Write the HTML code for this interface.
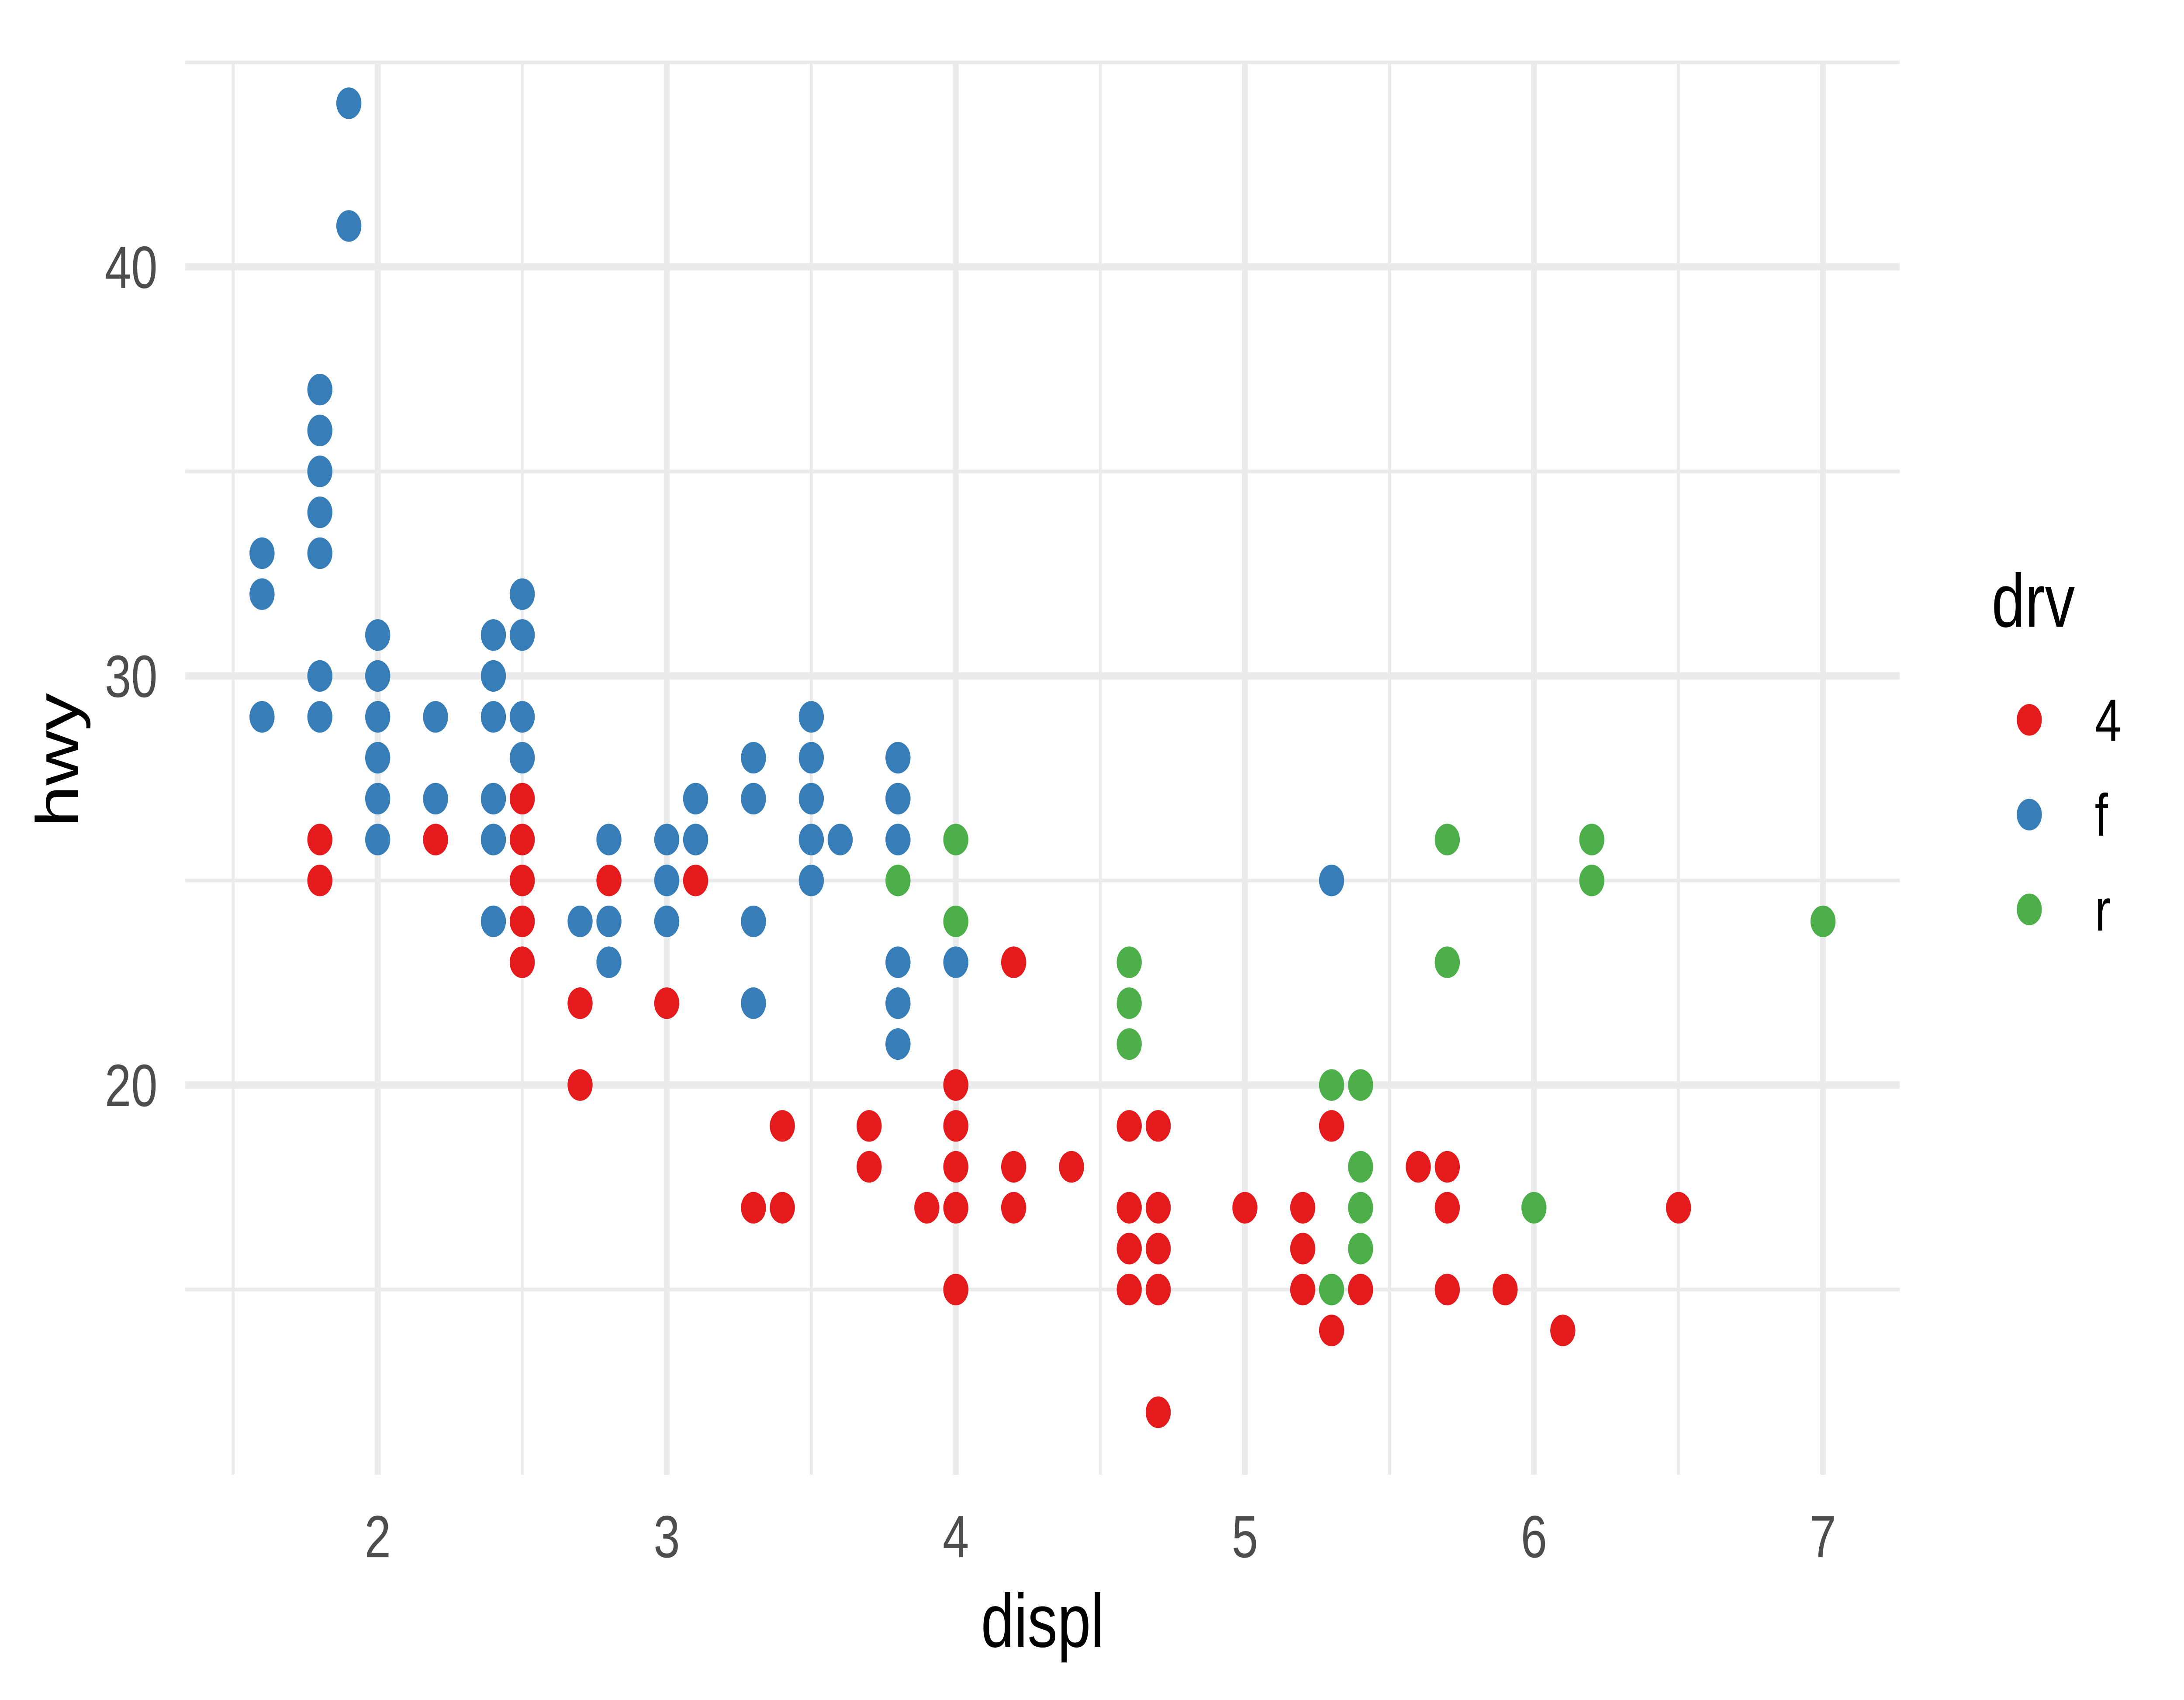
<!DOCTYPE html>
<html><head><meta charset="utf-8"><style>
html,body{margin:0;padding:0;background:#fff;overflow:hidden;}
svg{display:block;width:100vw;height:100vh;}
</style></head><body>
<svg xmlns="http://www.w3.org/2000/svg" viewBox="0 0 1567 968.3" preserveAspectRatio="none" font-family="Liberation Sans, sans-serif">
<rect width="1567" height="968.3" fill="#fff"/>
<g stroke="#EBEBEB" stroke-width="2.1">
<line x1="167.3" y1="35" x2="167.3" y2="840"/><line x1="374.7" y1="35" x2="374.7" y2="840"/>
<line x1="582.1" y1="35" x2="582.1" y2="840"/><line x1="789.5" y1="35" x2="789.5" y2="840"/>
<line x1="996.9" y1="35" x2="996.9" y2="840"/><line x1="1204.3" y1="35" x2="1204.3" y2="840"/>
<line x1="133" y1="734.5" x2="1363" y2="734.5"/><line x1="133" y1="501.5" x2="1363" y2="501.5"/><line x1="133" y1="268.5" x2="1363" y2="268.5"/><line x1="133" y1="35.5" x2="1363" y2="35.5"/>
</g>
<g stroke="#EBEBEB" stroke-width="4.2">
<line x1="271" y1="35" x2="271" y2="840"/><line x1="478.4" y1="35" x2="478.4" y2="840"/>
<line x1="685.8" y1="35" x2="685.8" y2="840"/><line x1="893.2" y1="35" x2="893.2" y2="840"/>
<line x1="1100.6" y1="35" x2="1100.6" y2="840"/><line x1="1308" y1="35" x2="1308" y2="840"/>
<line x1="133" y1="152" x2="1363" y2="152"/><line x1="133" y1="385" x2="1363" y2="385"/><line x1="133" y1="618" x2="1363" y2="618"/>
</g>
<g fill="#E41A1C">
<circle cx="229.5" cy="478.2" r="9"/><circle cx="229.5" cy="501.5" r="9"/><circle cx="312.5" cy="478.2" r="9"/>
<circle cx="374.7" cy="454.9" r="9"/><circle cx="374.7" cy="478.2" r="9"/><circle cx="374.7" cy="501.5" r="9"/><circle cx="374.7" cy="524.8" r="9"/><circle cx="374.7" cy="548.1" r="9"/>
<circle cx="416.2" cy="571.4" r="9"/><circle cx="416.2" cy="618" r="9"/><circle cx="436.9" cy="501.5" r="9"/>
<circle cx="478.4" cy="571.4" r="9"/><circle cx="499.1" cy="501.5" r="9"/><circle cx="540.6" cy="687.9" r="9"/>
<circle cx="561.3" cy="641.3" r="9"/><circle cx="561.3" cy="687.9" r="9"/><circle cx="623.6" cy="641.3" r="9"/><circle cx="623.6" cy="664.6" r="9"/>
<circle cx="665" cy="687.9" r="9"/>
<circle cx="685.8" cy="618" r="9"/><circle cx="685.8" cy="641.3" r="9"/><circle cx="685.8" cy="664.6" r="9"/><circle cx="685.8" cy="687.9" r="9"/><circle cx="685.8" cy="734.5" r="9"/>
<circle cx="727.3" cy="548.1" r="9"/><circle cx="727.3" cy="664.6" r="9"/><circle cx="727.3" cy="687.9" r="9"/><circle cx="768.8" cy="664.6" r="9"/>
<circle cx="810.2" cy="641.3" r="9"/><circle cx="810.2" cy="687.9" r="9"/><circle cx="810.2" cy="711.2" r="9"/><circle cx="810.2" cy="734.5" r="9"/>
<circle cx="831" cy="641.3" r="9"/><circle cx="831" cy="687.9" r="9"/><circle cx="831" cy="711.2" r="9"/><circle cx="831" cy="734.5" r="9"/><circle cx="831" cy="804.4" r="9"/>
<circle cx="893.2" cy="687.9" r="9"/><circle cx="934.7" cy="687.9" r="9"/><circle cx="934.7" cy="711.2" r="9"/><circle cx="934.7" cy="734.5" r="9"/>
<circle cx="955.4" cy="641.3" r="9"/><circle cx="955.4" cy="757.8" r="9"/><circle cx="976.2" cy="734.5" r="9"/>
<circle cx="1017.6" cy="664.6" r="9"/><circle cx="1038.4" cy="664.6" r="9"/><circle cx="1038.4" cy="687.9" r="9"/><circle cx="1038.4" cy="734.5" r="9"/>
<circle cx="1079.9" cy="734.5" r="9"/><circle cx="1121.3" cy="757.8" r="9"/><circle cx="1204.3" cy="687.9" r="9"/>
</g>
<g fill="#377EB8">
<circle cx="188" cy="315.1" r="9"/><circle cx="188" cy="338.4" r="9"/><circle cx="188" cy="408.3" r="9"/>
<circle cx="229.5" cy="221.9" r="9"/><circle cx="229.5" cy="245.2" r="9"/><circle cx="229.5" cy="268.5" r="9"/><circle cx="229.5" cy="291.8" r="9"/><circle cx="229.5" cy="315.1" r="9"/><circle cx="229.5" cy="385" r="9"/><circle cx="229.5" cy="408.3" r="9"/>
<circle cx="250.3" cy="58.8" r="9"/><circle cx="250.3" cy="128.7" r="9"/>
<circle cx="271" cy="361.7" r="9"/><circle cx="271" cy="385" r="9"/><circle cx="271" cy="408.3" r="9"/><circle cx="271" cy="431.6" r="9"/><circle cx="271" cy="454.9" r="9"/><circle cx="271" cy="478.2" r="9"/>
<circle cx="312.5" cy="408.3" r="9"/><circle cx="312.5" cy="454.9" r="9"/>
<circle cx="354" cy="361.7" r="9"/><circle cx="354" cy="385" r="9"/><circle cx="354" cy="408.3" r="9"/><circle cx="354" cy="454.9" r="9"/><circle cx="354" cy="478.2" r="9"/><circle cx="354" cy="524.8" r="9"/>
<circle cx="374.7" cy="338.4" r="9"/><circle cx="374.7" cy="361.7" r="9"/><circle cx="374.7" cy="408.3" r="9"/><circle cx="374.7" cy="431.6" r="9"/>
<circle cx="416.2" cy="524.8" r="9"/><circle cx="436.9" cy="478.2" r="9"/><circle cx="436.9" cy="524.8" r="9"/><circle cx="436.9" cy="548.1" r="9"/>
<circle cx="478.4" cy="478.2" r="9"/><circle cx="478.4" cy="501.5" r="9"/><circle cx="478.4" cy="524.8" r="9"/>
<circle cx="499.1" cy="454.9" r="9"/><circle cx="499.1" cy="478.2" r="9"/>
<circle cx="540.6" cy="431.6" r="9"/><circle cx="540.6" cy="454.9" r="9"/><circle cx="540.6" cy="524.8" r="9"/><circle cx="540.6" cy="571.4" r="9"/>
<circle cx="582.1" cy="408.3" r="9"/><circle cx="582.1" cy="431.6" r="9"/><circle cx="582.1" cy="454.9" r="9"/><circle cx="582.1" cy="478.2" r="9"/><circle cx="582.1" cy="501.5" r="9"/>
<circle cx="602.8" cy="478.2" r="9"/>
<circle cx="644.3" cy="431.6" r="9"/><circle cx="644.3" cy="454.9" r="9"/><circle cx="644.3" cy="478.2" r="9"/><circle cx="644.3" cy="548.1" r="9"/><circle cx="644.3" cy="571.4" r="9"/><circle cx="644.3" cy="594.7" r="9"/>
<circle cx="685.8" cy="548.1" r="9"/><circle cx="955.4" cy="501.5" r="9"/>
</g>
<g fill="#4DAF4A">
<circle cx="644.3" cy="501.5" r="9"/><circle cx="685.8" cy="478.2" r="9"/><circle cx="685.8" cy="524.8" r="9"/>
<circle cx="810.2" cy="548.1" r="9"/><circle cx="810.2" cy="571.4" r="9"/><circle cx="810.2" cy="594.7" r="9"/>
<circle cx="955.4" cy="618" r="9"/><circle cx="955.4" cy="734.5" r="9"/>
<circle cx="976.2" cy="618" r="9"/><circle cx="976.2" cy="664.6" r="9"/><circle cx="976.2" cy="687.9" r="9"/><circle cx="976.2" cy="711.2" r="9"/>
<circle cx="1038.4" cy="478.2" r="9"/><circle cx="1038.4" cy="548.1" r="9"/><circle cx="1100.6" cy="687.9" r="9"/>
<circle cx="1142.1" cy="478.2" r="9"/><circle cx="1142.1" cy="501.5" r="9"/><circle cx="1308" cy="524.8" r="9"/>
</g>
<g font-size="34" fill="#4D4D4D" text-anchor="end">
<text x="113" y="164">40</text><text x="113" y="397">30</text><text x="113" y="630">20</text>
</g>
<g font-size="34" fill="#4D4D4D" text-anchor="middle">
<text x="271" y="887">2</text><text x="478.4" y="887">3</text><text x="685.8" y="887">4</text>
<text x="893.2" y="887">5</text><text x="1100.6" y="887">6</text><text x="1308" y="887">7</text>
</g>
<text x="748" y="938" font-size="43" text-anchor="middle" fill="#000">displ</text>
<text transform="translate(56,433) rotate(-90)" font-size="43" text-anchor="middle" fill="#000">hwy</text>
<text x="1429" y="357" font-size="43" fill="#000">drv</text>
<circle cx="1456" cy="410" r="9" fill="#E41A1C"/>
<circle cx="1456" cy="464" r="9" fill="#377EB8"/>
<circle cx="1456" cy="518" r="9" fill="#4DAF4A"/>
<g font-size="34" fill="#000"><text x="1503" y="422">4</text><text x="1503" y="476">f</text><text x="1503" y="530">r</text></g>
</svg>
</body></html>
